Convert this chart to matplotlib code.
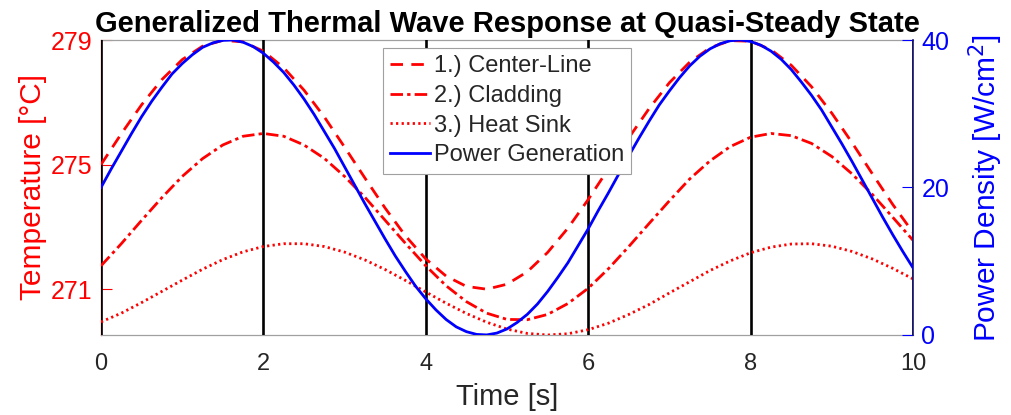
import matplotlib
matplotlib.use("Agg")
import matplotlib.pyplot as plt

plt.rcParams['font.family'] = ['Liberation Sans', 'DejaVu Sans']

# Temperature samples (every 0.25 s)
time_s = [0.0, 0.25, 0.5, 0.75, 1.0, 1.25, 1.5, 1.75, 2.0, 2.25, 2.5, 2.75, 3.0, 3.25, 3.5, 3.75,
          4.0, 4.25, 4.5, 4.75, 5.0, 5.25, 5.5, 5.75, 6.0, 6.25, 6.5, 6.75, 7.0, 7.25, 7.5, 7.75,
          8.0, 8.25, 8.5, 8.75, 9.0, 9.25, 9.5, 9.75, 10.0]

center_line = [275.0, 275.99, 276.92, 277.73, 278.37, 278.80, 278.99, 278.94, 278.64, 278.11,
               277.39, 276.53, 275.56, 274.57, 273.60, 272.71, 271.97, 271.42, 271.09, 271.00,
               271.16, 271.56, 272.18, 272.96, 273.88, 274.87, 275.86, 276.80, 277.63, 278.29,
               278.75, 278.98, 278.96, 278.69, 278.19, 277.50, 276.65, 275.70, 274.70, 273.72,
               272.82]

cladding = [271.75, 272.46, 273.21, 273.94, 274.62, 275.19, 275.63, 275.91, 276.00, 275.91,
            275.63, 275.20, 274.62, 273.95, 273.21, 272.47, 271.75, 271.11, 270.60, 270.23,
            270.03, 270.02, 270.19, 270.54, 271.03, 271.66, 272.37, 273.11, 273.84, 274.54,
            275.12, 275.58, 275.88, 276.00, 275.93, 275.68, 275.26, 274.70, 274.04, 273.31,
            272.57]

heat_sink = [269.95, 270.23, 270.57, 270.93, 271.29, 271.64, 271.95, 272.20, 272.37, 272.46,
             272.46, 272.37, 272.19, 271.94, 271.63, 271.28, 270.91, 270.55, 270.22, 269.94,
             269.72, 269.58, 269.53, 269.57, 269.70, 269.91, 270.19, 270.51, 270.88, 271.24,
             271.60, 271.91, 272.17, 272.35, 272.45, 272.46, 272.38, 272.21, 271.97, 271.67,
             271.33]

# Power density samples (every 0.125 s)
power_time = [0.0, 0.125, 0.25, 0.375, 0.5, 0.625, 0.75, 0.875, 1.0, 1.125, 1.25, 1.375, 1.5,
              1.625, 1.75, 1.875, 2.0, 2.125, 2.25, 2.375, 2.5, 2.625, 2.75, 2.875, 3.0, 3.125,
              3.25, 3.375, 3.5, 3.625, 3.75, 3.875, 4.0, 4.125, 4.25, 4.375, 4.5, 4.625, 4.75,
              4.875, 5.0, 5.125, 5.25, 5.375, 5.5, 5.625, 5.75, 5.875, 6.0, 6.125, 6.25, 6.375,
              6.5, 6.625, 6.75, 6.875, 7.0, 7.125, 7.25, 7.375, 7.5, 7.625, 7.75, 7.875, 8.0,
              8.125, 8.25, 8.375, 8.5, 8.625, 8.75, 8.875, 9.0, 9.125, 9.25, 9.375, 9.5, 9.625,
              9.75, 9.875, 10.0]

power = [20.0, 22.5, 24.9, 27.3, 29.6, 31.7, 33.6, 35.4, 36.8, 38.0, 39.0, 39.6, 39.95,
         40.0, 39.7, 39.1, 38.2, 37.0, 35.6, 33.9, 32.0, 29.9, 27.6, 25.3, 22.8, 20.3,
         17.8, 15.4, 13.0, 10.7, 8.6, 6.6, 4.9, 3.4, 2.1, 1.1, 0.45, 0.08, 0.01,
         0.26, 0.82, 1.7, 2.8, 4.2, 5.9, 7.8, 9.8, 12.1, 14.4, 16.9, 19.3, 21.8,
         24.3, 26.7, 29.0, 31.2, 33.1, 34.9, 36.5, 37.8, 38.8, 39.5, 39.9, 40.0, 39.8,
         39.3, 38.5, 37.4, 36.0, 34.3, 32.5, 30.5, 28.2, 25.9, 23.5, 21.0, 18.5, 16.0,
         13.6, 11.3, 9.1]

vlines_x = [0, 2, 4, 6, 8, 10]
x_ticks = [0, 2, 4, 6, 8, 10]
t_ticks = [271, 275, 279]
p_ticks = [0, 20, 40]

labels = ['1.) Center-Line', '2.) Cladding', '3.) Heat Sink', 'Power Generation']

RED = '#ff0000'
BLUE = '#0000ff'
DARK = '#262626'

fig = plt.figure(figsize=(10.11, 4.15), dpi=100)
ax = fig.add_axes([0.0999, 0.1928, 0.8032, 0.7108])
ax2 = ax.twinx()

for xv in vlines_x:
    ax.axvline(xv, color='black', lw=1.9, zorder=2.6)

l1, = ax.plot(time_s, center_line, color=RED, ls=(0, (4.5, 3.0)), lw=2.0, zorder=3)
l2, = ax.plot(time_s, cladding, color=RED, ls=(0, (4.5, 1.5, 1.2, 1.5)), lw=2.0, zorder=3)
l3, = ax.plot(time_s, heat_sink, color=RED, ls=(0, (0.8, 1.2)), lw=2.0, zorder=3)
l4, = ax2.plot(power_time, power, color=BLUE, ls='-', lw=2.0, zorder=3)

ax.set_xlim(0, 10)
ax.set_ylim(269.53, 279)
ax2.set_ylim(0, 40)

ax.set_xticks(x_ticks)
ax.set_yticks(t_ticks)
ax2.set_yticks(p_ticks)

ax.tick_params(axis='x', direction='in', length=0, labelsize=17, labelcolor=DARK, pad=13)
ax.tick_params(axis='y', direction='in', length=8, width=0.8, color=RED, labelcolor=RED,
               labelsize=18, pad=6)
ax2.tick_params(axis='y', direction='in', length=8, width=0.8, color=BLUE, labelcolor=BLUE,
                labelsize=18, pad=6)

ax.spines['top'].set_color('#a0a0a0')
ax.spines['bottom'].set_color('#a0a0a0')
ax.spines['left'].set_color(RED)
ax.spines['right'].set_visible(False)
for s in ('top', 'bottom', 'left'):
    ax2.spines[s].set_visible(False)
ax2.spines['right'].set_color('#14146e')
ax2.spines['right'].set_linewidth(1.2)
for s in ('top', 'bottom', 'left'):
    ax.spines[s].set_linewidth(0.9)

ax.set_xlabel('Time [s]', fontsize=21, color=DARK, labelpad=6)
ax.set_ylabel('Temperature [°C]', fontsize=21.5, color=RED, labelpad=3)
ax2.set_ylabel('Power Density [W/cm$^2$]', fontsize=21.5, color=BLUE, labelpad=12)

ax.set_title('Generalized Thermal Wave Response at Quasi-Steady State',
             fontsize=21, fontweight='bold', color='black', pad=6)

leg = ax2.legend([l1, l2, l3, l4], labels, loc='upper left',
                 bbox_to_anchor=(383 / 1011, 1 - 48 / 415), bbox_transform=fig.transFigure,
                 fontsize=17, frameon=True, fancybox=False, framealpha=1,
                 edgecolor='#a0a0a0', handlelength=1.7, handletextpad=0.15,
                 borderpad=0.3, labelspacing=0.33, borderaxespad=0)
leg.get_frame().set_linewidth(0.8)
for txt in leg.get_texts():
    txt.set_color(DARK)

fig.savefig('out.png', dpi=100)
